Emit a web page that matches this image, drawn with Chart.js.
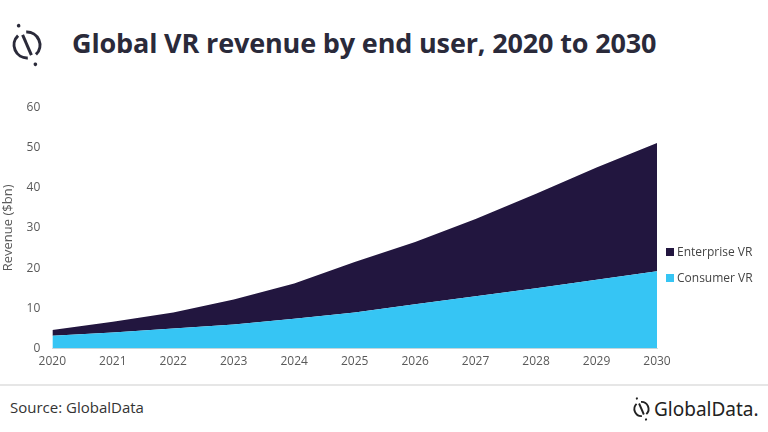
<!DOCTYPE html>
<html lang="en">
<head>
    <meta charset="UTF-8">
    <title>Global VR revenue by end user, 2020 to 2030</title>
    <style>
        body {
            margin: 0;
            width: 768px;
            height: 432px;
            background: #fff;
            font-family: "Open Sans", sans-serif;
            position: relative;
            overflow: hidden;
        }
        #logo {
            position: absolute;
            left: 6px;
            top: 20px;
        }
        h1 {
            position: absolute;
            left: 72px;
            top: 24px;
            margin: 0;
            font-size: 27px;
            font-weight: 700;
            color: #2a2a3a;
            letter-spacing: -0.15px;
        }
        #chartBox {
            position: absolute;
            left: 0;
            top: 96px;
            width: 768px;
            height: 275px;
        }
        .legend {
            position: absolute;
            left: 666px;
            font-size: 12px;
            color: #444;
        }
        .legend span {
            display: inline-block;
            width: 8px;
            height: 8px;
            margin-right: 3px;
        }
        #rule {
            position: absolute;
            left: 0;
            top: 384px;
            width: 768px;
            height: 2px;
            background: #e6e6e6;
        }
        #source {
            position: absolute;
            left: 10px;
            top: 397px;
            font-size: 15px;
            color: #333;
        }
        #brand {
            position: absolute;
            left: 630px;
            top: 395px;
            font-family: "Noto Sans", sans-serif;
            font-size: 19px;
            color: #222;
            display: flex;
            align-items: center;
        }
    </style>
</head>
<body>
    <!-- ロゴ: 円の中を斜めの線が通る -->
    <svg id="logo" width="44" height="50" viewBox="0 0 44 50">
        <g transform="rotate(-23.5 21 25)" stroke="#2a2a3a" stroke-width="3" fill="none">
            <path d="M25.45 12.8 A13 13 0 0 1 25.45 37.2"/>
            <path d="M16.55 37.2 A13 13 0 0 1 16.55 12.8"/>
            <line x1="21" y1="14" x2="21" y2="36"/>
            <circle cx="21" cy="4" r="1.8" fill="#2a2a3a" stroke="none"/>
            <circle cx="21" cy="46" r="1.8" fill="#2a2a3a" stroke="none"/>
        </g>
    </svg>
    <h1>Global VR revenue by end user, 2020 to 2030</h1>

    <div id="chartBox"><canvas id="myChart"></canvas></div>

    <div class="legend" style="top:243px"><span style="background:#22163f"></span>Enterprise VR</div>
    <div class="legend" style="top:269px"><span style="background:#36c5f4"></span>Consumer VR</div>

    <div id="rule"></div>
    <div id="source">Source: GlobalData</div>
    <div id="brand">
        <svg width="24" height="28" viewBox="0 0 44 50">
            <g transform="rotate(-23.5 21 25)" stroke="#222" stroke-width="3.5" fill="none">
                <path d="M25.45 12.8 A13 13 0 0 1 25.45 37.2"/>
                <path d="M16.55 37.2 A13 13 0 0 1 16.55 12.8"/>
                <line x1="21" y1="14" x2="21" y2="36"/>
                <circle cx="21" cy="4" r="2" fill="#222" stroke="none"/>
                <circle cx="21" cy="46" r="2" fill="#222" stroke="none"/>
            </g>
        </svg>GlobalData.
    </div>

    <script src="https://cdn.jsdelivr.net/npm/chart.js"></script>
    <script>
        // データ
        const years = ['2020', '2021', '2022', '2023', '2024', '2025', '2026', '2027', '2028', '2029', '2030'];
        const consumerVR = [3.2, 4.0, 5.0, 6.0, 7.4, 9.0, 11.0, 13.0, 15.0, 17.1, 19.2];
        const enterpriseVR = [1.4, 2.7, 4.0, 6.2, 8.8, 12.5, 15.5, 19.2, 23.5, 27.9, 31.9];
        const yTicks = [0, 10, 20, 30, 40, 50, 60];

        const tickFont = { family: 'Open Sans', size: 12 };

        new Chart(document.getElementById('myChart'), {
            type: 'line',
            data: {
                labels: years,
                datasets: [
                    {
                        label: 'Consumer VR',
                        data: consumerVR,
                        backgroundColor: '#36c5f4',
                        borderColor: '#36c5f4',
                        borderWidth: 0,
                        pointRadius: 0,
                        fill: 'origin'
                    },
                    {
                        label: 'Enterprise VR',
                        data: enterpriseVR,
                        backgroundColor: '#22163f',
                        borderColor: '#22163f',
                        borderWidth: 0,
                        pointRadius: 0,
                        fill: '-1'
                    }
                ]
            },
            options: {
                responsive: true,
                maintainAspectRatio: false,
                animation: false,
                layout: { padding: { left: 0, right: 111, top: 6, bottom: 0 } },
                plugins: {
                    legend: { display: false },
                    tooltip: { enabled: false }
                },
                scales: {
                    x: {
                        offset: false,
                        grid: { display: false, drawTicks: true, tickLength: 4, color: '#d9d9d9' },
                        border: { color: '#d9d9d9' },
                        ticks: { color: '#595959', font: tickFont, maxRotation: 0, padding: 2 }
                    },
                    y: {
                        stacked: true,
                        min: 0,
                        max: 60,
                        afterBuildTicks: axis => { axis.ticks = yTicks.map(v => ({ value: v })); },
                        grid: { display: false },
                        border: { display: false },
                        title: {
                            display: true,
                            text: 'Revenue ($bn)',
                            color: '#595959',
                            font: { family: 'Open Sans', size: 13 },
                            padding: { top: 0, bottom: 7 }
                        },
                        ticks: { color: '#595959', font: tickFont, padding: 4 }
                    }
                }
            }
        });
    </script>
</body>
</html>
